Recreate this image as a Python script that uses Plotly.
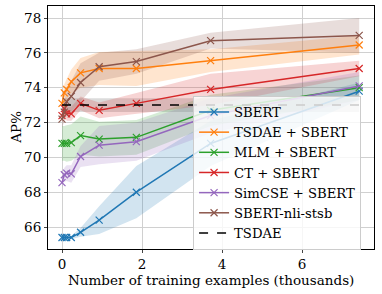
import plotly.graph_objects as go

x_vals = [0, 0.058, 0.116, 0.232, 0.464, 0.929, 1.858, 3.715, 7.43]

series_names = ["SBERT", "TSDAE + SBERT", "MLM + SBERT", "CT + SBERT", "SimCSE + SBERT", "SBERT-nli-stsb"]
colors = ["#1f77b4", "#ff7f0e", "#2ca02c", "#d62728", "#9467bd", "#8c564b"]

sbert_mean = [65.4, 65.4, 65.4, 65.4, 65.7, 66.4, 68.0, 70.8, 73.8]
sbert_std = [0.05, 0.05, 0.05, 0.1, 0.25, 0.8, 1.5, 1.3, 0.5]

tsdae_sbert_mean = [73.1, 73.7, 73.9, 74.35, 74.85, 75.1, 75.1, 75.55, 76.45]
tsdae_sbert_std = [0.3, 0.5, 0.6, 0.7, 0.85, 0.95, 1.0, 0.65, 0.55]

mlm_mean = [70.8, 70.8, 70.8, 70.85, 71.25, 71.05, 71.15, 72.7, 74.0]
mlm_std = [1.0, 1.0, 1.05, 1.05, 1.1, 1.0, 1.0, 0.9, 0.7]

ct_mean = [72.4, 72.8, 72.5, 72.5, 73.1, 72.7, 73.1, 73.9, 75.1]
ct_std = [0.4, 0.4, 0.4, 0.4, 0.4, 0.45, 0.6, 0.9, 0.45]

simcse_mean = [68.55, 69.0, 69.1, 69.05, 70.05, 70.7, 70.9, 72.4, 74.1]
simcse_std = [0.3, 0.4, 0.45, 0.5, 0.6, 1.1, 1.1, 1.0, 0.8]

nli_mean = [72.2, 72.6, 73.2, 73.5, 74.3, 75.2, 75.5, 76.7, 77.0]
nli_std = [0.5, 0.6, 0.8, 0.9, 1.1, 0.8, 0.7, 0.45, 1.0]

tsdae_level = 73.0
tsdae_std = 0.4

means = [sbert_mean, tsdae_sbert_mean, mlm_mean, ct_mean, simcse_mean, nli_mean]
stds = [sbert_std, tsdae_sbert_std, mlm_std, ct_std, simcse_std, nli_std]


def rgba(hexc, a):
    h = hexc.lstrip("#")
    r, g, b = int(h[0:2], 16), int(h[2:4], 16), int(h[4:6], 16)
    return f"rgba({r},{g},{b},{a})"


fig = go.Figure()

# TSDAE band
tx = [x_vals[0], x_vals[-1]]
fig.add_trace(go.Scatter(
    x=tx + tx[::-1],
    y=[tsdae_level + tsdae_std] * 2 + [tsdae_level - tsdae_std] * 2,
    mode="lines", fill="toself", fillcolor="rgba(0,0,0,0.14)", line=dict(width=0),
    showlegend=False, hoverinfo="skip"))

for name, c, m, s in zip(series_names, colors, means, stds):
    up = [a + b for a, b in zip(m, s)]
    lo = [a - b for a, b in zip(m, s)]
    fig.add_trace(go.Scatter(
        x=x_vals + x_vals[::-1], y=up + lo[::-1], mode="lines",
        fill="toself", fillcolor=rgba(c, 0.2), line=dict(width=0),
        showlegend=False, hoverinfo="skip"))

for name, c, m in zip(series_names, colors, means):
    fig.add_trace(go.Scatter(
        x=x_vals, y=m, mode="lines+markers", name=name,
        line=dict(color=c, width=1.5),
        marker=dict(symbol="x-thin", size=7, line=dict(color=c, width=1.2), color=c)))

fig.add_trace(go.Scatter(
    x=tx, y=[tsdae_level] * 2, mode="lines", name="TSDAE",
    line=dict(color="black", width=1.5, dash="dash")))

font_family = "DejaVu Serif"

fig.update_layout(
    width=382, height=294,
    margin=dict(l=48, r=8, t=6, b=45),
    paper_bgcolor="white", plot_bgcolor="white",
    font=dict(family=font_family, size=13.5, color="black"),
    legend=dict(
        x=0.445, y=0.63, xanchor="left", yanchor="top",
        bgcolor="rgba(255,255,255,0.8)", bordercolor="#cccccc", borderwidth=1,
        font=dict(family=font_family, size=13.2), tracegroupgap=0,
        itemwidth=30),
    xaxis=dict(
        range=[-0.35, 7.8], tickvals=[0, 2, 4, 6],
        showgrid=True, gridcolor="#d0d0d0", gridwidth=1,
        showline=True, linecolor="black", linewidth=1, mirror=True,
        ticks="outside", ticklen=3, zeroline=False),
    yaxis=dict(
        range=[64.74, 78.69], tickvals=[66, 68, 70, 72, 74, 76, 78],
        showgrid=True, gridcolor="#d0d0d0", gridwidth=1,
        showline=True, linecolor="black", linewidth=1, mirror=True,
        ticks="outside", ticklen=3, zeroline=False),
    annotations=[
        dict(text="Number of training examples (thousands)", xref="paper", yref="paper",
             x=0.5, y=-0.086, xanchor="center", yanchor="top", showarrow=False,
             font=dict(size=13.5)),
        dict(text="AP%", xref="paper", yref="paper", x=-0.07, y=0.5,
             xanchor="right", yanchor="middle", textangle=-90, showarrow=False,
             font=dict(size=13.5)),
    ],
)

fig.write_html("out.html", config={"displayModeBar": False},
               post_script="document.body.style.margin='0';")
